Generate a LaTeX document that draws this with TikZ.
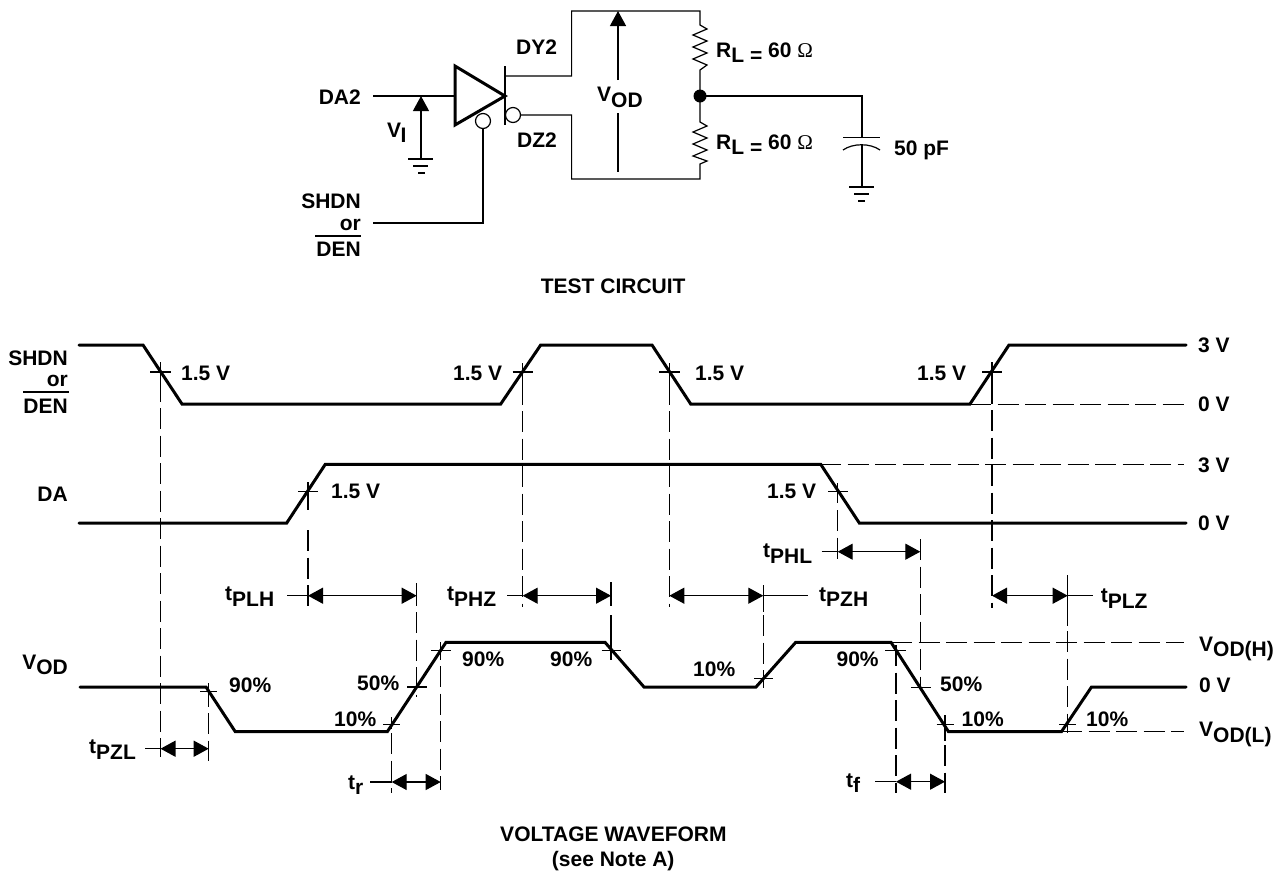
\documentclass[tikz,border=0pt]{standalone}
\usepackage{fontspec}
\setmainfont{Liberation Sans}
\newfontfamily\omegafont{Liberation Serif}
\usetikzlibrary{arrows.meta}
\newcommand\lowsub[1]{\raisebox{-5.5pt}{#1}}
\newcommand\ohm{{\omegafont\mdseries\symbol{"03A9}}}
\tikzset{
  thinline/.style={line width=1.2pt},
  wave/.style={line width=3pt,line join=miter,line cap=round},
  dashline/.style={line width=1.2pt,dash pattern=on 21pt off 6.5pt},
  tiparrow/.style={line width=1.2pt,-{Triangle[length=15pt,width=16pt]}},
  bothtips/.style={line width=1.2pt,{Triangle[length=15pt,width=16pt]}-{Triangle[length=15pt,width=16pt]}},
  lw/.style={inner sep=0pt,anchor=base west,font=\fontsize{21}{24}\selectfont\bfseries},
  le/.style={inner sep=0pt,anchor=base east,font=\fontsize{21}{24}\selectfont\bfseries},
  lc/.style={inner sep=0pt,anchor=base,font=\fontsize{21}{24}\selectfont\bfseries},
  bubble/.style={circle,draw,line width=1.2pt,minimum size=15pt,inner sep=0pt,fill=white}
}
\begin{document}
\begin{tikzpicture}[x=1pt,y=-1pt]
\useasboundingbox (0,0) rectangle (1276,871);

% ---------- test circuit ----------
\coordinate (inL) at (373,96);
\coordinate (inR) at (455,96);
\coordinate (viTop) at (421,96);
\coordinate (viGnd) at (421,159);
\draw[thinline] (inL) -- (inR);
\draw[tiparrow] (viGnd) -- (viTop);
\draw[thinline] (408,159) -- (433,159) (413,166) -- (428,166) (418,173) -- (425,173);

\draw[line width=3pt,line join=miter] (455,66) -- (505,96) -- (455,125) -- cycle;
\node[bubble] (enb) at (483,121) {};
\coordinate (enL) at (373,223);
\draw[thinline] (enb.south) |- (enL);

\draw[thinline] (505,66) -- (505,125);
\node[bubble] (outb) at (513,115) {};
\coordinate (dy) at (505,76);
\coordinate (topL) at (571.6,11);
\coordinate (botL) at (571.6,179);
\coordinate (topR) at (700,11);
\coordinate (botR) at (700,179);
\coordinate (mid) at (700,96);
\coordinate (capTop) at (862,137);
\coordinate (capBot) at (862,187);
\draw[thinline] (dy) -| (topL) -- (topR) -- (700,25) -- (707,29) -- (693,35) -- (707,41) -- (693,47) -- (707,53) -- (693,59) -- (707,65) -- (700,70) -- (mid)
  -- (700,122) -- (707,126) -- (693,132) -- (707,138) -- (693,144) -- (707,150) -- (693,156) -- (707,161) -- (700,164) -- (botR) -- (botL) |- (outb.east);
\fill (mid) circle (6.5pt);
\draw[thinline] (mid) -| (capTop);
\draw[thinline] (843,137.3) -- (880,137.3);
\draw[thinline] (843,150) .. controls (853,143) and (870,143) .. (880,150);
\draw[thinline] (862,144) -- (capBot);
\draw[thinline] (849,187) -- (874,187) (854,194) -- (869,194) (858,201) -- (865,201);

\draw[tiparrow] (618,80) -- (618,11);
\draw[thinline] (618,113) -- (618,172);

\node[le] (tDA2) at (361,104) {DA2};
\node[lw] (tVI) at (387,137) {V\lowsub{\kern-0.5pt I}};
\node[le] (tSHDN) at (361,208) {SHDN};
\node[le] (tor) at (361,230) {or};
\draw[line width=2pt] (315,236) -- (361,236);
\node[le] (tDEN) at (361,256.7) {DEN};
\node[lw] (tDY2) at (516,54) {DY2};
\node[lw] (tDZ2) at (517,147) {DZ2};
\node[lw] (tVOD) at (597,101.7) {V\lowsub{OD}};
\node[lw] (tR1) at (716,57) {R\lowsub{L = }60 \ohm};
\node[lw] (tR2) at (716,149) {R\lowsub{L = }60 \ohm};
\node[lw] (tC) at (894,155) {50 pF};
\node[lc] (tTC) at (613.2,293.3) {TEST CIRCUIT};

% ---------- waveforms ----------
\draw[dashline] (970,404.5) -- (1184,404.5);
\draw[dashline] (820,464.7) -- (1184,464.7);
\draw[dashline] (891,642.7) -- (1184,642.7);
\draw[dashline] (1061,731.7) -- (1184,731.7);

\draw[wave] (79,345) -- (143,345) -- (182,404) -- (500.7,404) -- (540.7,345) -- (652,345) -- (690.7,404) -- (970,404) -- (1009,345) -- (1186,345);
\draw[wave] (79,523) -- (286.7,523) -- (325.3,464.3) -- (820.7,464.3) -- (859.3,523) -- (1186,523);
\draw[wave] (80,687) -- (206,687) -- (235.3,731.7) -- (387.3,731.7) -- (446,642.3) -- (605,642.3) -- (644,687) -- (756,687) -- (795.7,642.3) -- (891,642.3) -- (948.5,731.7) -- (1061.4,731.7) -- (1091.5,687) -- (1186,687);

% vertical reference lines: solid lead-in pieces
\foreach \x/\a/\b in {160.5/362/402, 522.7/363/405, 669.3/363/405, 992/362/404, 308/482/510, 416.7/583/606, 440.7/642/660, 611/582/606, 611/615/660, 763.3/585/612, 837.7/483/503, 1067.7/575/626, 945/715/741, 391.7/717/729, 208.7/683/707}
  \draw[thinline] (\x,\a) -- (\x,\b);
% vertical reference lines: dashed pieces
\foreach \x/\a/\b in {160.5/408/757, 522.7/411/607, 669.3/411/607, 992/410/608, 308/530/611, 416.7/612/697, 440.7/666/790, 763.3/615/688, 920.3/539/688, 837.7/510/565, 1067.7/631/733, 896/645/793, 945/745/793, 391.7/733/793, 208.7/713/761}
  \draw[dashline] (\x,\a) -- (\x,\b);
% crossing ticks
\foreach \y/\a/\b in {372/150/171, 372/512.7/532.7, 372/659.3/680, 372/982/1002, 491.3/298/318, 491.3/828/848, 691.3/200/217, 687/407/427, 724.3/383/400, 650.7/431/451, 650.3/601.7/621, 678.3/754/773, 650.3/885/906, 687.3/911/931, 724.3/936.6/953.7, 724.3/1059/1076}
  \draw[thinline] (\a,\y) -- (\b,\y);

% timing arrows
\foreach \y/\a/\b/\t/\e in {595.7/308/416.7/287/308, 595.7/522.7/611/507/522.7, 595.7/669.3/763.3/763.3/808, 595.7/992/1067.7/1067.7/1093, 551.7/837.7/920.3/821.7/837.7, 748.7/160.5/208.7/145/160.5, 782/391.7/440.7/370/391.7, 781.7/896/945/875/896}{
  \draw[bothtips] (\a,\y) -- (\b,\y);
  \draw[thinline] (\t,\y) -- (\e,\y);
}

% labels
\node[le] (lSHDN) at (68,365) {SHDN};
\node[le] (lor) at (68,386) {or};
\draw[line width=2pt] (23,392.3) -- (69,392.3);
\node[le] (lDEN) at (68,413.3) {DEN};
\node[le] (lDA) at (68,501) {DA};
\node[le] (lVOD) at (68,669) {V\lowsub{OD}};

\node[lw] (v1) at (181,380) {1.5 V};
\node[lw] (v2) at (453,380) {1.5 V};
\node[lw] (v3) at (695,380) {1.5 V};
\node[lw] (v4) at (917,380) {1.5 V};
\node[lw] (v5) at (331,498) {1.5 V};
\node[lw] (v6) at (767,498) {1.5 V};

\node[lw] (r1) at (1198,352.7) {3 V};
\node[lw] (r2) at (1198,411) {0 V};
\node[lw] (r3) at (1198,472) {3 V};
\node[lw] (r4) at (1198,530) {0 V};
\node[lw] (r5) at (1199,651) {V\lowsub{OD(H)}};
\node[lw] (r6) at (1199,692.7) {0 V};
\node[lw] (r7) at (1199,736.7) {V\lowsub{OD(L)}};

\node[lw] (tPLH) at (225,600.7) {t\lowsub{PLH}};
\node[lw] (tPHZ) at (447,600.7) {t\lowsub{PHZ}};
\node[lw] (tPZH) at (819,601) {t\lowsub{PZH}};
\node[lw] (tPLZ) at (1100.7,602.5) {t\lowsub{PLZ}};
\node[lw] (tPHL) at (763,557.5) {t\lowsub{PHL}};
\node[lw] (tPZL) at (89,753.5) {t\lowsub{PZL}};
\node[lw] (ttr) at (348,789) {t\lowsub{r}};
\node[lw] (ttf) at (846,787) {t\lowsub{f}};

\node[lw] (p1) at (229,692.7) {90\%};
\node[lw] (p2) at (357,690) {50\%};
\node[lw] (p3) at (334,726.7) {10\%};
\node[lw] (p4) at (462,666.7) {90\%};
\node[lw] (p5) at (550,666.7) {90\%};
\node[lw] (p6) at (693,676.7) {10\%};
\node[lw] (p7) at (836.4,666.7) {90\%};
\node[lw] (p8) at (940,691.7) {50\%};
\node[lw] (p9) at (961.5,726) {10\%};
\node[lw] (p10) at (1086,726) {10\%};

\node[lc] (tVW) at (613.4,841.7) {VOLTAGE WAVEFORM};
\node[lc] (tNote) at (613.2,866.5) {(see Note A)};
\end{tikzpicture}
\end{document}
